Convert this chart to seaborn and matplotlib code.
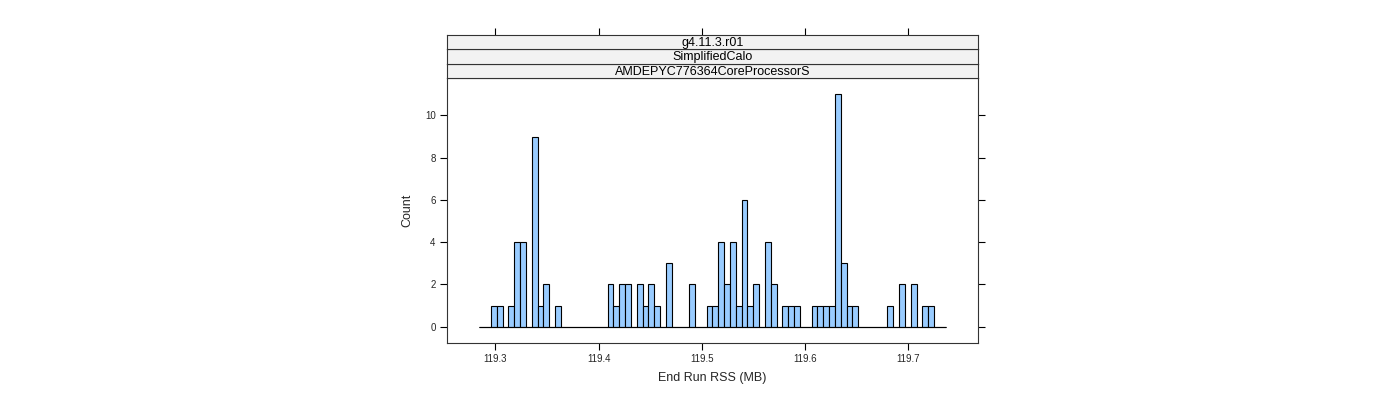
import numpy as np
import pandas as pd
import matplotlib
matplotlib.use("Agg")
import matplotlib.pyplot as plt
import seaborn as sns

# ---- data ----
range_start = 119.2845
range_end = 119.7362
n_bins = 80
bin_index = [2, 3, 5, 6, 7, 9, 10, 11, 13, 22, 23, 24, 25, 27, 28, 29, 30, 32, 36,
             39, 40, 41, 42, 43, 44, 45, 46, 47, 49, 50, 52, 53, 54, 57, 58, 59, 60,
             61, 62, 63, 64, 70, 72, 74, 76, 77]
bin_count = [1, 1, 1, 4, 4, 9, 1, 2, 1, 2, 1, 2, 2, 2, 1, 2, 1, 3, 2,
             1, 1, 4, 2, 4, 1, 6, 1, 2, 4, 2, 1, 1, 1, 1, 1, 1, 1,
             11, 3, 1, 1, 1, 2, 2, 1, 1]
x_ticks = [119.3, 119.4, 119.5, 119.6, 119.7]
y_ticks = [0, 2, 4, 6, 8, 10]
strip_labels = ["g4.11.3.r01", "SimplifiedCalo", "AMDEPYC776364CoreProcessorS"]
x_label = "End Run RSS (MB)"
y_label = "Count"

edges = np.linspace(range_start, range_end, n_bins + 1)
centers = (edges[:-1] + edges[1:]) / 2
counts = np.zeros(n_bins)
counts[bin_index] = bin_count
df = pd.DataFrame({"rss": centers, "n": counts})

sns.set_style("white")
plt.rcParams["font.family"] = ["Liberation Sans", "DejaVu Sans"]

fig = plt.figure(figsize=(14, 4), dpi=100)
W, H = 1400, 400
px_l, px_r, px_b, px_t = 446.7, 978.3, 343, 78
ax = fig.add_axes([px_l / W, 1 - px_b / H, (px_r - px_l) / W, (px_b - px_t) / H])

sns.histplot(x=df["rss"].to_numpy(), weights=df["n"].to_numpy(), bins=list(edges), ax=ax,
             color="#99CCFF", edgecolor="black", linewidth=0.8, alpha=1.0)
ax.hlines(0, edges[0], edges[-1], color="black", linewidth=0.8, zorder=3)

span = range_end - range_start
ax.set_xlim(range_start - 0.07 * span, range_end + 0.07 * span)
ymax = max(bin_count)
ax.set_ylim(-0.07 * ymax, ymax * 1.07)
ax.set_xticks(x_ticks)
ax.set_xticklabels([f"{t:.1f}" for t in x_ticks])
ax.set_yticks(y_ticks)
ax.tick_params(axis="both", direction="out", length=5, width=0.8, color="black",
               labelsize=7, left=True, bottom=True, right=True, top=False,
               labelright=False, pad=3)
ax.set_xlabel(x_label, fontsize=9, labelpad=6)
ax.set_ylabel(y_label, fontsize=9, labelpad=8)
for s in ax.spines.values():
    s.set_color("#333333")
    s.set_linewidth(0.8)
    s.set_visible(True)

# strips
strip_h = (px_t - 35) / 3
for i, lab in enumerate(reversed(strip_labels)):
    y0 = px_t - (i + 1) * strip_h
    sax = fig.add_axes([px_l / W, 1 - (y0 + strip_h) / H, (px_r - px_l) / W, strip_h / H],
                       sharex=ax)
    sax.set_facecolor("#F2F2F2")
    sax.set_ylim(0, 1)
    sax.text(0.5, 0.45, lab, transform=sax.transAxes, ha="center", va="center",
             fontsize=9, color="black")
    for s in sax.spines.values():
        s.set_color("#333333")
        s.set_linewidth(0.8)
    sax.set_yticks([])
    if i == len(strip_labels) - 1:
        sax.tick_params(axis="x", direction="out", length=5, width=0.8, color="black",
                        top=True, bottom=False, labeltop=False, labelbottom=False)
    else:
        sax.tick_params(axis="x", top=False, bottom=False, labeltop=False,
                        labelbottom=False)

fig.savefig("out.png", dpi=100)
